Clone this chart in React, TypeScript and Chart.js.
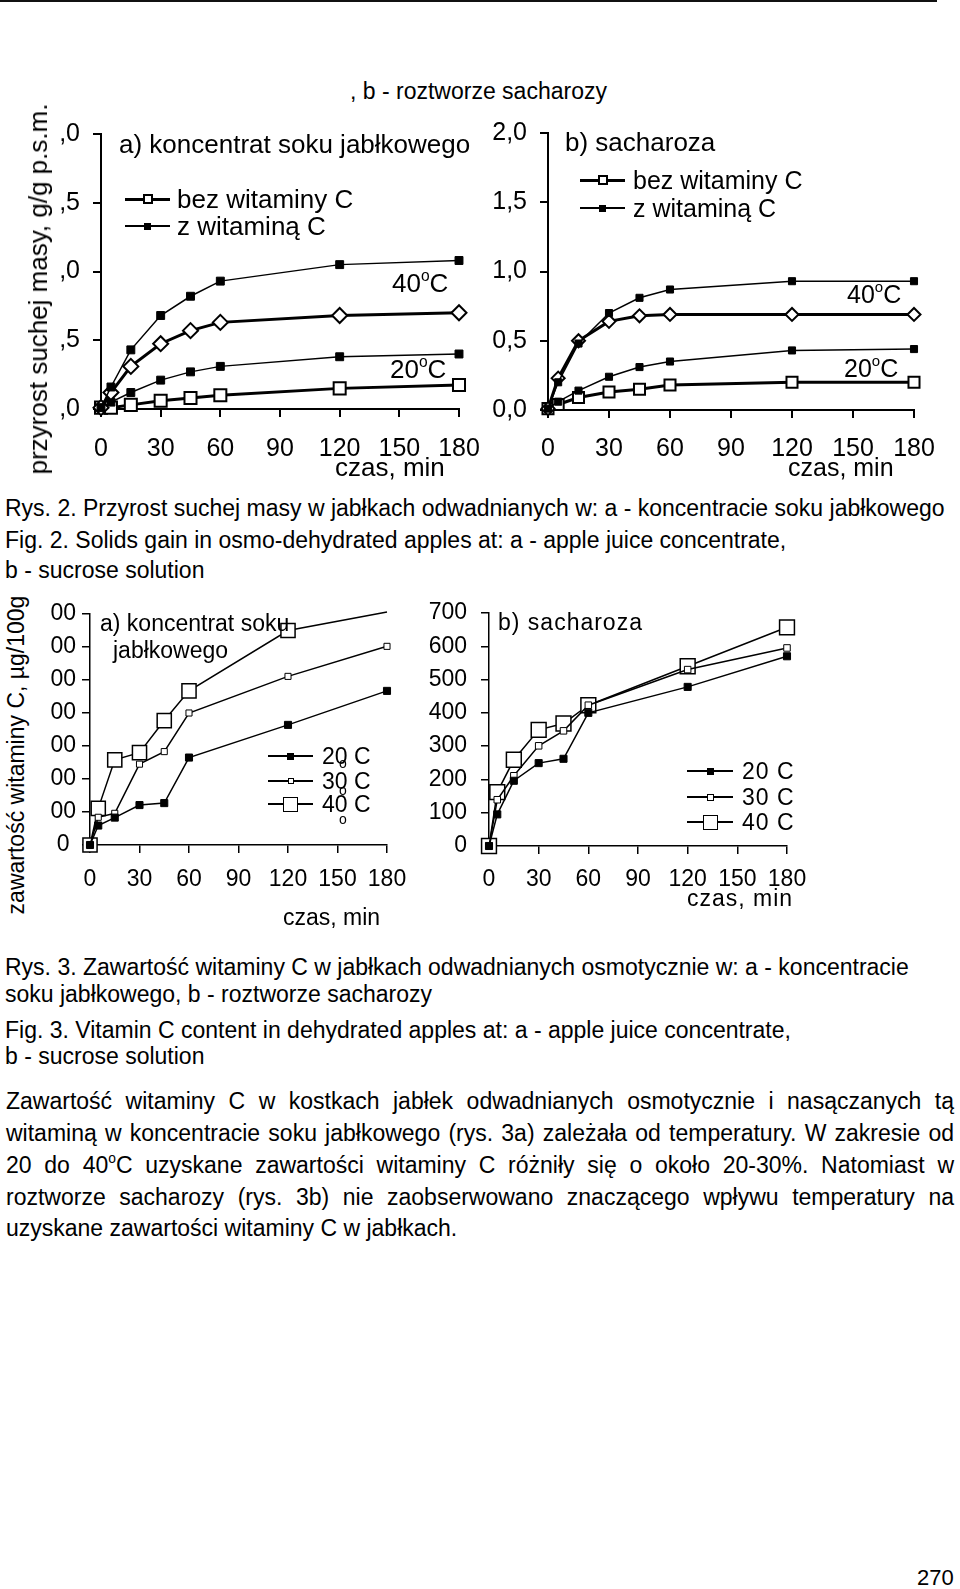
import React, { useEffect, useRef } from "react";
import { Chart, registerables } from "chart.js";

Chart.register(...registerables);

const FONT = "'Liberation Sans', Arial, Helvetica, sans-serif";

// ---- shared x values (time, min) ----
const timeMin = [0, 5, 15, 30, 45, 60, 120, 180];

// ---- Fig. 2a: koncentrat soku jabłkowego (g/g p.s.m.) ----
const fig2aWithVit40 = [0.01, 0.16, 0.43, 0.68, 0.82, 0.93, 1.05, 1.08];
const fig2aNoVit40 = [0.01, 0.12, 0.31, 0.475, 0.57, 0.63, 0.68, 0.7];
const fig2aWithVit20 = [0.01, 0.05, 0.12, 0.21, 0.27, 0.31, 0.38, 0.4];
const fig2aNoVit20 = [0.01, 0.01, 0.03, 0.06, 0.08, 0.1, 0.15, 0.175];
const fig2aYTickLabels = [",0", ",5", ",0", ",5", ",0"];

// ---- Fig. 2b: sacharoza ----
const fig2bWithVit40 = [0.01, 0.2, 0.48, 0.7, 0.81, 0.87, 0.93, 0.93];
const fig2bNoVit40 = [0.01, 0.23, 0.5, 0.64, 0.68, 0.69, 0.69, 0.69];
const fig2bWithVit20 = [0.01, 0.06, 0.14, 0.24, 0.31, 0.35, 0.43, 0.44];
const fig2bNoVit20 = [0.01, 0.04, 0.09, 0.13, 0.15, 0.18, 0.2, 0.2];
const fig2bYTickLabels = ["0,0", "0,5", "1,0", "1,5", "2,0"];

// ---- Fig. 3a: vitamin C, koncentrat (µg/100g) ----
const fig3a20 = [0, 59, 83, 121, 127, 265, 364, 467];
const fig3a30 = [0, 84, 96, 245, 283, 400, 511, 602];
const fig3a40 = [0, 111, 258, 280, 377, 467, 650, 706];
const fig3aYTickLabels = ["0", "00", "00", "00", "00", "00", "00", "00"];

// ---- Fig. 3b: vitamin C, sacharoza ----
const fig3b20 = [0, 95, 196, 249, 262, 400, 478, 570];
const fig3b30 = [0, 139, 211, 301, 346, 423, 530, 595];
const fig3b40 = [0, 162, 259, 349, 368, 423, 540, 657];
const fig3bYTickLabels = ["0", "100", "200", "300", "400", "500", "600", "700"];

type Series = {
  values: number[];
  width: number;
  style: string;
  radius: number | number[];
  fill: string;
  bw: number;
};

type Box = { left: number; top: number; width: number; height: number };
type Area = { l: number; t: number; r: number; b: number };

function Panel(props: {
  box: Box;
  area: Area;
  yMax: number;
  yStep: number;
  yLabels: string[];
  series: Series[];
  tickSize: number;
  xPad: number;
  yPad: number;
  yAlign: "near" | "center";
  axisW: number;
}) {
  const ref = useRef<HTMLCanvasElement>(null);
  useEffect(() => {
    const { box, area } = props;
    const yW = area.l - box.left;
    const xH = box.top + box.height - area.b;
    const chart = new Chart(ref.current as HTMLCanvasElement, {
      type: "line",
      data: {
        datasets: props.series.map((s) => ({
          data: timeMin.map((x, i) => ({ x, y: s.values[i] })),
          borderColor: "#000",
          borderWidth: s.width,
          tension: 0,
          fill: false,
          pointStyle: s.style as any,
          pointRadius: s.radius as any,
          pointHoverRadius: s.radius as any,
          pointBackgroundColor: s.fill,
          pointBorderColor: "#000",
          pointBorderWidth: s.bw,
          clip: false as any,
        })),
      },
      options: {
        animation: false,
        responsive: false,
        maintainAspectRatio: false,
        devicePixelRatio: 1,
        events: [],
        layout: {
          padding: {
            left: 0,
            top: area.t - box.top,
            right: box.left + box.width - area.r,
            bottom: 0,
          },
        },
        plugins: {
          legend: { display: false },
          tooltip: { enabled: false },
          title: { display: false },
        },
        scales: {
          x: {
            type: "linear",
            min: 0,
            max: 180,
            ticks: {
              stepSize: 30,
              autoSkip: false,
              maxRotation: 0,
              padding: props.xPad,
              color: "#000",
              font: { family: FONT, size: props.tickSize },
            },
            grid: {
              display: true,
              drawOnChartArea: false,
              drawTicks: true,
              tickLength: 8,
              color: "#000",
              lineWidth: props.axisW,
            },
            border: { display: true, color: "#000", width: props.axisW },
            afterFit: (s: any) => {
              s.height = xH;
            },
          } as any,
          y: {
            type: "linear",
            min: 0,
            max: props.yMax,
            ticks: {
              stepSize: props.yStep,
              autoSkip: false,
              padding: props.yPad,
              crossAlign: props.yAlign,
              color: "#000",
              font: { family: FONT, size: props.tickSize },
              callback: (v: any) => props.yLabels[Math.round(Number(v) / props.yStep)],
            },
            grid: {
              display: true,
              drawOnChartArea: false,
              drawTicks: true,
              tickLength: 8,
              color: "#000",
              lineWidth: props.axisW,
            },
            border: { display: true, color: "#000", width: props.axisW },
            afterFit: (s: any) => {
              s.width = yW;
            },
          } as any,
        },
      },
    });
    return () => chart.destroy();
  }, []);
  const { box } = props;
  return (
    <canvas
      ref={ref}
      width={box.width}
      height={box.height}
      style={{ position: "absolute", left: box.left, top: box.top, width: box.width, height: box.height }}
    />
  );
}

function Txt(p: { x: number; y: number; size: number; children: any; ls?: number; w?: number }) {
  const style: any = {
    position: "absolute",
    left: p.x,
    top: p.y - p.size / 2,
    fontSize: p.size,
    lineHeight: `${p.size}px`,
    fontFamily: FONT,
    color: "#000",
    letterSpacing: p.ls ? `${p.ls}px` : undefined,
  };
  if (p.w) {
    style.width = p.w;
    style.textAlign = "justify";
    style.textAlignLast = "justify";
  } else {
    style.whiteSpace = "nowrap";
  }
  return <div style={style}>{p.children}</div>;
}

function VTxt(p: { cx: number; cy: number; size: number; children: any }) {
  return (
    <div
      style={{
        position: "absolute",
        left: p.cx,
        top: p.cy,
        transform: "translate(-50%, -50%) rotate(-90deg)",
        fontSize: p.size,
        lineHeight: `${p.size}px`,
        fontFamily: FONT,
        whiteSpace: "nowrap",
        color: "#000",
      }}
    >
      {p.children}
    </div>
  );
}

const Deg = () => (
  <span style={{ fontSize: "0.6em", position: "relative", top: "-0.7em" }}>o</span>
);

function LegLine(p: { x1: number; x2: number; y: number; lw: number; side: number; filled: boolean; bw: number }) {
  const cx = (p.x1 + p.x2) / 2;
  return (
    <>
      <div
        style={{
          position: "absolute",
          left: p.x1,
          top: p.y - p.lw / 2,
          width: p.x2 - p.x1,
          height: p.lw,
          background: "#000",
        }}
      />
      <div
        style={{
          position: "absolute",
          left: cx - p.side / 2,
          top: p.y - p.side / 2,
          width: p.side,
          height: p.side,
          boxSizing: "border-box",
          border: `${p.bw}px solid #000`,
          background: p.filled ? "#000" : "#fff",
        }}
      />
    </>
  );
}

export default function App() {
  const thinFilledA = (v: number[]): Series => ({ values: v, width: 1.5, style: "rect", radius: 5.6, fill: "#000", bw: 1 });
  const diamond = (v: number[], r: number): Series => ({ values: v, width: 3, style: "rectRot", radius: r, fill: "#fff", bw: 2 });
  const openSq = (v: number[], r: number): Series => ({ values: v, width: 3, style: "rect", radius: r, fill: "#fff", bw: 2 });

  return (
    <div
      style={{
        position: "absolute",
        left: 0,
        top: 0,
        width: 960,
        height: 1589,
        background: "#fff",
        overflow: "hidden",
      }}
    >
      <div style={{ position: "absolute", left: 0, top: 0, width: 937, height: 2, background: "#111" }} />
      <Txt x={350} y={91} size={23}>, b - roztworze sacharozy</Txt>

      {/* Fig 2a */}
      <Panel
        box={{ left: 40, top: 94, width: 469, height: 386 }}
        area={{ l: 101, t: 134, r: 459, b: 409 }}
        yMax={2}
        yStep={0.5}
        yLabels={fig2aYTickLabels}
        series={[
          thinFilledA(fig2aWithVit40),
          diamond(fig2aNoVit40, 7.5),
          thinFilledA(fig2aWithVit20),
          openSq(fig2aNoVit20, 8.5),
        ]}
        tickSize={25}
        xPad={17}
        yPad={13}
        yAlign="near"
        axisW={2}
      />
      <VTxt cx={38} cy={289} size={26}>przyrost suchej masy, g/g p.s.m.</VTxt>
      <Txt x={119} y={144} size={26}>a) koncentrat soku jabłkowego</Txt>
      <LegLine x1={125} x2={170} y={199} lw={3} side={10} filled={false} bw={2} />
      <LegLine x1={125} x2={170} y={226} lw={1.5} side={7} filled={true} bw={1} />
      <Txt x={177} y={199} size={26}>bez witaminy C</Txt>
      <Txt x={177} y={226} size={26}>z witaminą C</Txt>
      <Txt x={392} y={283} size={26}>40<Deg />C</Txt>
      <Txt x={390} y={369} size={26}>20<Deg />C</Txt>
      <Txt x={335} y={467} size={26}>czas, min</Txt>

      {/* Fig 2b */}
      <Panel
        box={{ left: 490, top: 93, width: 470, height: 387 }}
        area={{ l: 548, t: 133, r: 914, b: 410 }}
        yMax={2}
        yStep={0.5}
        yLabels={fig2bYTickLabels}
        series={[
          { values: fig2bWithVit40, width: 1.5, style: "rect", radius: 5, fill: "#000", bw: 1 },
          diamond(fig2bNoVit40, 6.5),
          { values: fig2bWithVit20, width: 1.5, style: "rect", radius: 5, fill: "#000", bw: 1 },
          openSq(fig2bNoVit20, 7.8),
        ]}
        tickSize={25}
        xPad={16}
        yPad={13}
        yAlign="near"
        axisW={2}
      />
      <Txt x={565} y={142} size={26}>b) sacharoza</Txt>
      <LegLine x1={580} x2={625} y={180} lw={3} side={10} filled={false} bw={2} />
      <LegLine x1={580} x2={625} y={208} lw={1.5} side={7} filled={true} bw={1} />
      <Txt x={633} y={180} size={25}>bez witaminy C</Txt>
      <Txt x={633} y={208} size={25}>z witaminą C</Txt>
      <Txt x={847} y={294} size={25}>40<Deg />C</Txt>
      <Txt x={844} y={368} size={25}>20<Deg />C</Txt>
      <Txt x={788} y={467} size={25}>czas, min</Txt>

      <Txt x={5} y={508} size={23}>Rys. 2. Przyrost suchej masy w jabłkach odwadnianych w: a - koncentracie soku jabłkowego</Txt>
      <Txt x={5} y={540} size={23}>Fig. 2. Solids gain in osmo-dehydrated apples at: a - apple juice concentrate,</Txt>
      <Txt x={5} y={570} size={23}>b - sucrose solution</Txt>

      {/* Fig 3a */}
      <Panel
        box={{ left: 30, top: 574, width: 410, height: 326 }}
        area={{ l: 90, t: 614, r: 387, b: 845 }}
        yMax={700}
        yStep={100}
        yLabels={fig3aYTickLabels}
        series={[
          { values: fig3a20, width: 1.5, style: "rect", radius: 5, fill: "#000", bw: 1 },
          { values: fig3a30, width: 1.5, style: "rect", radius: 4.3, fill: "#fff", bw: 1 },
          { values: fig3a40, width: 1.5, style: "rect", radius: [10, 10, 10, 10, 10, 10, 10, 0], fill: "#fff", bw: 1.5 },
        ]}
        tickSize={23}
        xPad={13}
        yPad={6}
        yAlign="center"
        axisW={1.5}
      />
      <VTxt cx={16} cy={755} size={23}>zawartość witaminy C, µg/100g</VTxt>
      <Txt x={100} y={623} size={23}>a) koncentrat soku</Txt>
      <Txt x={113} y={650} size={23}>jabłkowego</Txt>
      <LegLine x1={268} x2={313} y={756} lw={1.5} side={7} filled={true} bw={1} />
      <LegLine x1={268} x2={313} y={781} lw={1.5} side={6} filled={false} bw={1} />
      <LegLine x1={268} x2={313} y={804} lw={1.5} side={15} filled={false} bw={1.5} />
      <Txt x={322} y={756} size={23}>20 C</Txt>
      <Txt x={322} y={781} size={23}>30 C</Txt>
      <Txt x={322} y={804} size={23}>40 C</Txt>
      <Txt x={339} y={763} size={14}>o</Txt>
      <Txt x={339} y={790} size={14}>o</Txt>
      <Txt x={339} y={819} size={14}>o</Txt>
      <Txt x={283} y={917} size={23}>czas, min</Txt>

      {/* Fig 3b */}
      <Panel
        box={{ left: 425, top: 573, width: 415, height: 327 }}
        area={{ l: 489, t: 613, r: 787, b: 846 }}
        yMax={700}
        yStep={100}
        yLabels={fig3bYTickLabels}
        series={[
          { values: fig3b20, width: 1.5, style: "rect", radius: 5, fill: "#000", bw: 1 },
          { values: fig3b30, width: 1.5, style: "rect", radius: 4.6, fill: "#fff", bw: 1 },
          { values: fig3b40, width: 1.5, style: "rect", radius: 10.5, fill: "#fff", bw: 1.5 },
        ]}
        tickSize={23}
        xPad={12}
        yPad={14}
        yAlign="near"
        axisW={1.5}
      />
      <Txt x={498} y={622} size={23} ls={1}>b) sacharoza</Txt>
      <LegLine x1={687} x2={733} y={771} lw={1.5} side={7} filled={true} bw={1} />
      <LegLine x1={687} x2={733} y={797} lw={1.5} side={7} filled={false} bw={1} />
      <LegLine x1={687} x2={733} y={822} lw={1.5} side={15} filled={false} bw={1.5} />
      <Txt x={742} y={771} size={23} ls={1}>20 C</Txt>
      <Txt x={742} y={797} size={23} ls={1}>30 C</Txt>
      <Txt x={742} y={822} size={23} ls={1}>40 C</Txt>
      <Txt x={687} y={898} size={23} ls={1}>czas, min</Txt>

      <Txt x={5} y={967} size={23}>Rys. 3. Zawartość witaminy C w jabłkach odwadnianych osmotycznie w: a - koncentracie</Txt>
      <Txt x={5} y={994} size={23}>soku jabłkowego, b - roztworze sacharozy</Txt>
      <Txt x={5} y={1030} size={23}>Fig. 3. Vitamin C content in dehydrated apples at: a - apple juice concentrate,</Txt>
      <Txt x={5} y={1056} size={23}>b - sucrose solution</Txt>

      <Txt x={6} y={1101} size={23} w={948}>Zawartość witaminy C w kostkach jabłek odwadnianych osmotycznie i nasączanych tą</Txt>
      <Txt x={6} y={1133} size={23} w={948}>witaminą w koncentracie soku jabłkowego (rys. 3a) zależała od temperatury. W zakresie od</Txt>
      <Txt x={6} y={1165} size={23} w={948}>20 do 40<Deg />C uzyskane zawartości witaminy C różniły się o około 20-30%. Natomiast w</Txt>
      <Txt x={6} y={1197} size={23} w={948}>roztworze sacharozy (rys. 3b) nie zaobserwowano znaczącego wpływu temperatury na</Txt>
      <Txt x={6} y={1228} size={23}>uzyskane zawartości witaminy C w jabłkach.</Txt>

      <Txt x={917} y={1578} size={22}>270</Txt>
    </div>
  );
}
